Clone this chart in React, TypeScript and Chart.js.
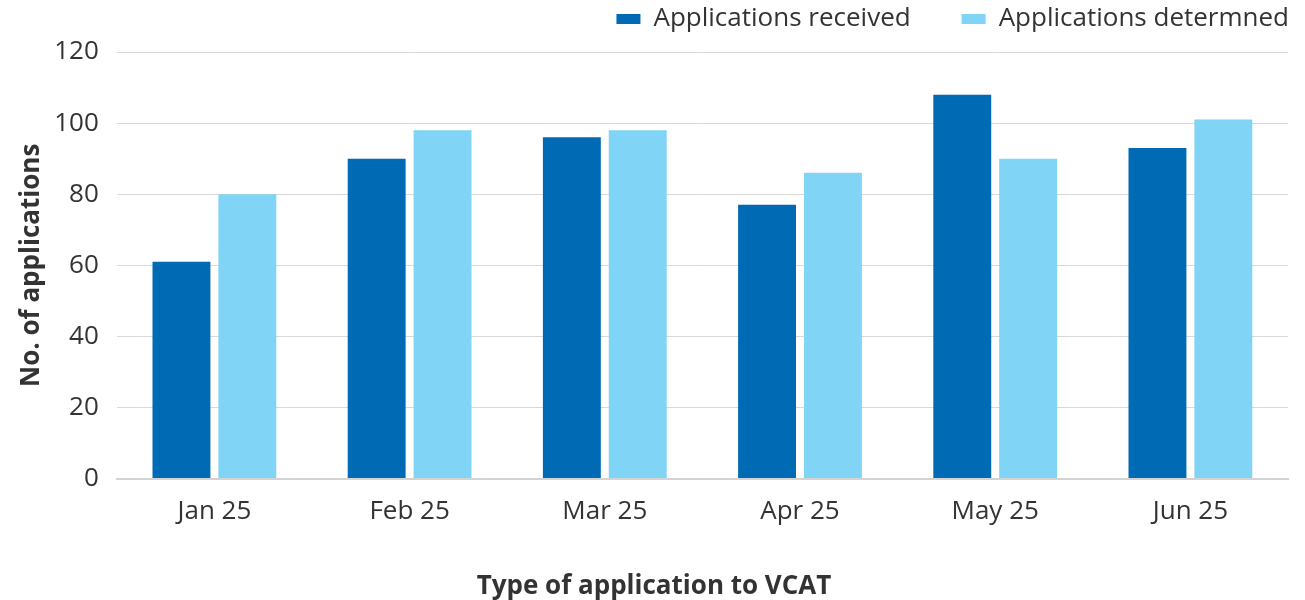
import React, { useEffect, useRef } from "react";
import { Chart, registerables } from "chart.js";

Chart.register(...registerables);

const categories = ["Jan 25", "Feb 25", "Mar 25", "Apr 25", "May 25", "Jun 25"];
const received = [61, 90, 96, 77, 108, 93];
const determined = [80, 98, 98, 86, 90, 101];
const seriesNames = ["Applications received", "Applications determned"];
const seriesColors = ["#006AB5", "#80D4F6"];
const xTitle = "Type of application to VCAT";
const yTitle = "No. of applications";

const FONT = "'Open Sans', Lato, sans-serif";
const TEXT = "#333333";

const legendPlugin = {
  id: "customLegend",
  afterDraw(chart: any) {
    const ctx = chart.ctx;
    ctx.save();
    ctx.font = `26px ${FONT}`;
    ctx.textBaseline = "middle";
    ctx.textAlign = "left";
    const boxW = 24, boxH = 10, gapText = 13, gapItem = 51;
    const items = chart.data.datasets.map((d: any) => ({
      label: d.label as string,
      color: d.backgroundColor as string,
      w: ctx.measureText(d.label).width,
    }));
    let total = 0;
    items.forEach((it: any, i: number) => {
      total += boxW + gapText + it.w + (i < items.length - 1 ? gapItem : 0);
    });
    let x = chart.width - 16 - total;
    const y = 19;
    items.forEach((it: any) => {
      ctx.fillStyle = it.color;
      ctx.fillRect(x, y - boxH / 2, boxW, boxH);
      x += boxW + gapText;
      ctx.fillStyle = TEXT;
      ctx.fillText(it.label, x, y);
      x += it.w + gapItem;
    });
    ctx.restore();
  },
};

export default function App() {
  const ref = useRef<HTMLCanvasElement>(null);
  useEffect(() => {
    if (!ref.current) return;
    const chart = new Chart(ref.current, {
      type: "bar",
      data: {
        labels: categories,
        datasets: [
          { label: seriesNames[0], data: received, backgroundColor: seriesColors[0], barPercentage: 0.879, categoryPercentage: 0.675 },
          { label: seriesNames[1], data: determined, backgroundColor: seriesColors[1], barPercentage: 0.879, categoryPercentage: 0.675 },
        ],
      },
      plugins: [legendPlugin],
      options: {
        responsive: true,
        maintainAspectRatio: false,
        animation: false,
        layout: { padding: { left: 20, right: 17, top: 52, bottom: 0 } },
        plugins: {
          tooltip: { enabled: false },
          legend: { display: false },
          title: {
            display: true,
            position: "bottom",
            text: xTitle,
            color: TEXT,
            font: { family: FONT, size: 26, weight: "bold" },
            padding: { top: 27, bottom: -2 },
          },
        },
        scales: {
          x: {
            grid: { display: false, drawTicks: false },
            border: { display: true, color: "#d3d3d3", width: 2 },
            ticks: { color: TEXT, font: { family: FONT, size: 26 }, padding: 17 },
          },
          y: {
            min: 0,
            max: 120,
            ticks: { stepSize: 20, color: TEXT, font: { family: FONT, size: 26 }, padding: 18 },
            grid: { color: "#d9d9d9", drawTicks: false, lineWidth: 1 },
            border: { display: false },
            title: {
              display: true,
              text: yTitle,
              color: TEXT,
              font: { family: FONT, size: 26, weight: "bold" },
              padding: { top: -4, bottom: -11 },
            },
          },
        },
      },
    });
    return () => chart.destroy();
  }, []);
  return (
    <div style={{ position: "fixed", left: 0, top: 0, width: 1305, height: 600, background: "#fff" }}>
      <canvas ref={ref} />
    </div>
  );
}
